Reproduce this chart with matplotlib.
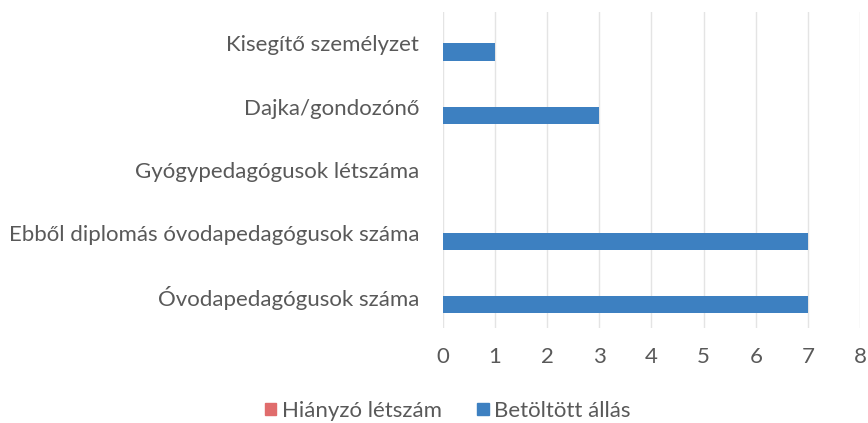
import numpy as np
from matplotlib import pyplot as plt
import matplotlib.patches as mpatches

# data, bottom to top as in the chart
categories = ["Óvodapedagógusok száma",
              "Ebből diplomás óvodapedagógusok száma",
              "Gyógypedagógusok létszáma",
              "Dajka/gondozónő",
              "Kisegítő személyzet"]
hianyzo = [0, 0, 0, 0, 0]
betoltott = [7, 7, 0, 3, 1]
series_names = ["Hiányzó létszám", "Betöltött állás"]

red = "#E06C6C"
blue = "#3D80C1"
txt = "#595959"

plt.rcParams["font.family"] = ["Lato", "DejaVu Sans"]

fig = plt.figure(figsize=(8.68, 4.23), dpi=100)
ax = fig.add_axes([0.510, 0.2246, 0.481, 0.7474])

y = np.arange(len(categories))
h = 0.27
ax.barh(y + 0.135, hianyzo, height=h, color=red)
ax.barh(y - 0.135, betoltott, height=h, color=blue)

ax.set_xlim(0, 8)
ax.set_ylim(-0.5, len(categories) - 0.5)
ax.set_xticks(range(0, 9))
ax.set_yticks(y)
ax.set_yticklabels(categories)
ax.tick_params(axis="both", length=0, labelsize=16, colors=txt)
ax.tick_params(axis="x", pad=14)
ax.tick_params(axis="y", pad=17)
for s in ax.spines.values():
    s.set_visible(False)
ax.grid(axis="x", color="#E4E4E4", linewidth=1)
ax.set_axisbelow(True)

red_patch = mpatches.Patch(color=red, label=series_names[0])
blue_patch = mpatches.Patch(color=blue, label=series_names[1])
fig.legend(handles=[red_patch, blue_patch], loc="center", bbox_to_anchor=(0.516, 0.029),
           ncol=2, frameon=False, fontsize=16, handlelength=0.5, handleheight=0.5,
           handletextpad=0.25, columnspacing=1.6, labelcolor=txt)

fig.savefig("out.png", dpi=100)
